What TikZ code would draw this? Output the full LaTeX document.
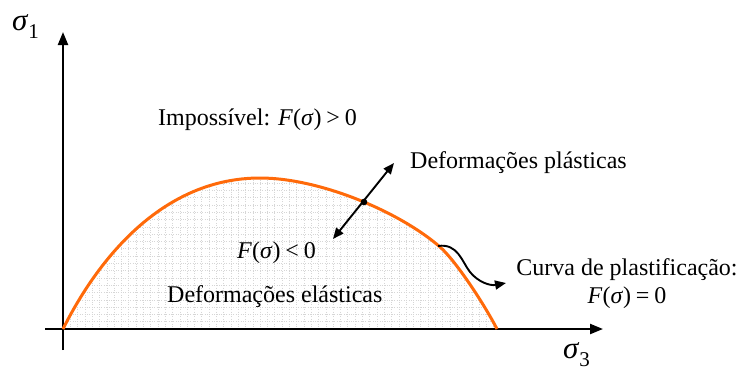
\documentclass[tikz,border=0pt]{standalone}
\usepackage{fontspec}
\setmainfont{Liberation Serif}
\usetikzlibrary{arrows.meta}
\definecolor{orng}{RGB}{255,106,10}
\newcommand{\rel}[1]{\hspace{0.2em}#1\hspace{0.2em}}
\begin{document}
\begin{tikzpicture}[x=1pt,y=-1pt,
  lbl/.style={font=\fontsize{24}{28}\selectfont, inner sep=0pt},
  axislbl/.style={font=\fontsize{31}{31}\selectfont, inner sep=0pt},
  axisline/.style={line width=2.2pt, -{Triangle[length=13pt,width=10pt]}},
  conn/.style={line width=1.9pt, -{Triangle[length=11pt,width=9pt]}},
  dconn/.style={line width=1.9pt, {Triangle[length=11pt,width=9pt]}-{Triangle[length=11pt,width=9pt]}},
  gridline/.style={gray!32, dash pattern=on 1pt off 1.4pt, line width=0.6pt},
  yieldcurve/.style={orng, line width=3pt},
]
\useasboundingbox (0,0) rectangle (742,370);
% grid under the curve
\begin{scope}
\clip (63,329) .. controls (100,255) and (165,178) .. (260,178)
  .. controls (320,178) and (400,212) .. (440,247)
  .. controls (455,260) and (483,302) .. (497,329) -- cycle;
\foreach \i in {0,...,60} {\draw[gridline] ({63+7.3*\i},170) -- ({63+7.3*\i},329);}
\foreach \j in {0,...,22} {\draw[gridline] (63,{329-7.3*\j}) -- (500,{329-7.3*\j});}
\end{scope}
% axes
\coordinate (ybot) at (63,350);
\coordinate (ytop) at (63,32);
\coordinate (xleft) at (45,329);
\coordinate (xright) at (603,329);
\draw[axisline] (ybot) -- (ytop);
\draw[axisline] (xleft) -- (xright);
\node[axislbl, anchor=base west] (s1) at (12,30) {\textit{σ}\raisebox{-8pt}{\fontsize{21}{21}\selectfont 1}};
\node[axislbl, anchor=base west] (s3) at (563,358) {\textit{σ}\raisebox{-8pt}{\fontsize{21}{21}\selectfont 3}};
% yield curve
\draw[yieldcurve] (63,329) .. controls (100,255) and (165,178) .. (260,178)
  .. controls (320,178) and (400,212) .. (440,247)
  .. controls (455,260) and (483,302) .. (497,329);
% labels
\node[lbl, anchor=west] (imp) at (158,120) {Impossível: \textit{F}(\textit{σ})\rel{>}0};
\node[lbl, anchor=west] (plast) at (410,163) {Deformações plásticas};
\node[lbl, anchor=west] (fneg) at (237,253) {\textit{F}(\textit{σ})\rel{<}0};
\node[lbl, anchor=west] (elast) at (167,297) {Deformações elásticas};
\node[lbl, align=center] (curva) at (627,284) {Curva de plastificação:\\\textit{F}(\textit{σ})\rel{=}0};
% connectors
\coordinate (pin) at (333,239);
\coordinate (pout) at (394,163);
\coordinate (pt) at (364,202);
\draw[dconn] (pin) -- (pout);
\fill (pt) circle (3.3pt);
\coordinate (cstart) at (438,246);
\coordinate (cend) at (506,283);
\draw[conn] (cstart) .. controls (458,243) and (462,262) .. (470,272) .. controls (478,282) and (490,286) .. (cend);
\end{tikzpicture}
\end{document}
